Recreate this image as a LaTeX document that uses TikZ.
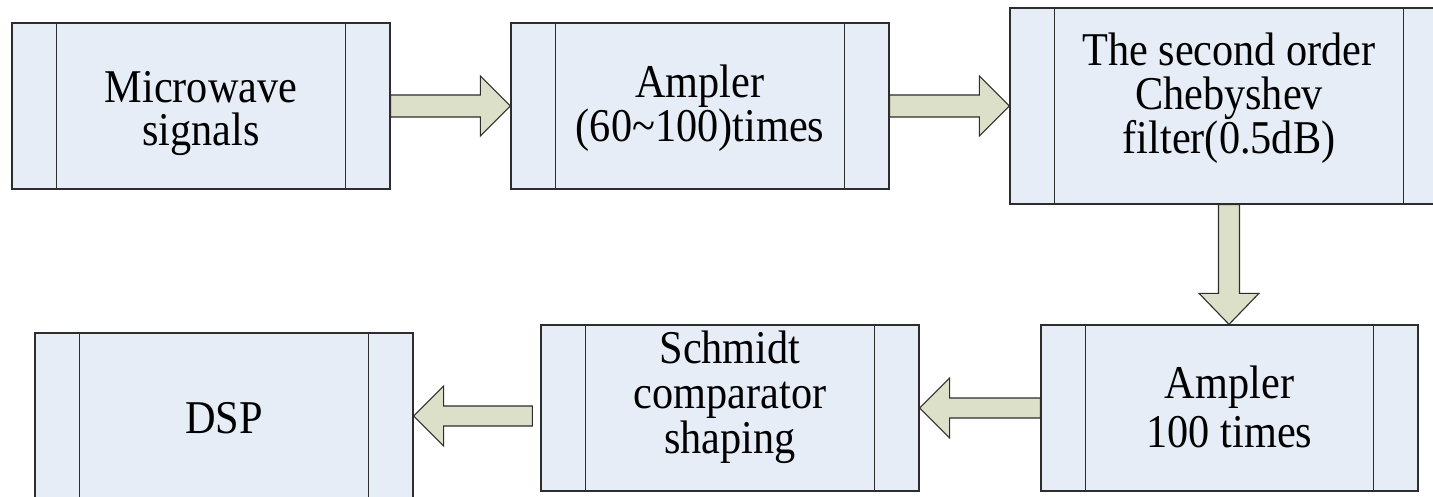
\documentclass[tikz,border=0pt]{standalone}
\usepackage{fontspec}
\setmainfont{Liberation Serif}[FakeStretch=0.9]
\usetikzlibrary{calc}
\definecolor{boxfill}{RGB}{230,237,247}
\definecolor{arrowfill}{RGB}{220,224,200}
\definecolor{edge}{RGB}{45,45,45}
\begin{document}
\begin{tikzpicture}[x=1pt,y=-1pt,
  block/.style={draw=edge, fill=boxfill, line width=1.3pt, inner sep=0pt,
    minimum width=378pt, minimum height=166pt},
  txt/.style={anchor=base, inner sep=0pt, font=\fontsize{47}{47}\selectfont},
  bar/.style={draw=edge, line width=1.3pt},
  fatarrow/.style={draw=edge, fill=arrowfill, line width=1.1pt, line join=miter}]
\useasboundingbox (0,0) rectangle (1433,497);
\clip (0,0) rectangle (1433,497);

% processing blocks
\node[block] (mw)   at (201,106)  {};
\node[block] (amp1) at (700,106)  {};
\node[block, minimum width=438pt, minimum height=196pt] (cheb) at (1229,106) {};
\node[block, minimum width=377pt] (amp2) at (1229.5,408) {};
\node[block] (schm) at (730,408)  {};
\node[block] (dsp)  at (224,416)  {};

% side bars of each block
\foreach \b in {mw,amp1,cheb,amp2,schm,dsp}{
  \draw[bar] ([xshift=45pt]\b.north west) -- ([xshift=45pt]\b.south west);
  \draw[bar] ([xshift=-45pt]\b.north east) -- ([xshift=-45pt]\b.south east);
}

% block labels, one node per line, placed on their baselines
\node[txt] (mw-a)   at ($(mw.center)+(0,-3)$)    {Microwave};
\node[txt] (mw-b)   at ($(mw.center)+(0,40)$)    {signals};
\node[txt] (amp1-a) at ($(amp1.center)+(0,-8)$)  {Ampler};
\node[txt] (amp1-b) at ($(amp1.center)+(0,36)$)  {(60\textasciitilde100)times};
\node[txt] (cheb-a) at ($(cheb.center)+(0,-40)$) {The second order};
\node[txt] (cheb-b) at ($(cheb.center)+(0,4)$)   {Chebyshev};
\node[txt] (cheb-c) at ($(cheb.center)+(0,48)$)  {filter(0.5dB)};
\node[txt] (amp2-a) at ($(amp2.center)+(0,-10)$) {Ampler};
\node[txt] (amp2-b) at ($(amp2.center)+(0,39)$)  {100 times};
\node[txt] (schm-a) at ($(schm.center)+(0,-45)$) {Schmidt};
\node[txt] (schm-b) at ($(schm.center)+(0,0)$)   {comparator};
\node[txt] (schm-c) at ($(schm.center)+(0,45)$)  {shaping};
\node[txt] (dsp-a)  at ($(dsp.center)+(0,17)$)   {DSP};

% block arrows, pointing right
\foreach \a/\b in {mw/amp1, amp1/cheb}{
  \draw[fatarrow] let \p1=(\a.east), \p2=(\b.west) in
    (\x1,\y1+11pt) -- (\x2-30pt,\y1+11pt) -- (\x2-30pt,\y1+30pt) -- (\x2,\y1)
    -- (\x2-30pt,\y1-30pt) -- (\x2-30pt,\y1-11pt) -- (\x1,\y1-11pt) -- cycle;
}

% block arrow, pointing down
\draw[fatarrow] let \p1=(cheb.south), \p2=(amp2.north) in
  (\x1-10.5pt,\y1) -- (\x1-10.5pt,\y2+31pt) -- (\x1-30pt,\y2+31pt) -- (\x1,\y2)
  -- (\x1+30pt,\y2+31pt) -- (\x1+10.5pt,\y2+31pt) -- (\x1+10.5pt,\y1) -- cycle;

% block arrow, pointing left
\draw[fatarrow] let \p1=(amp2.west), \p2=(schm.east) in
  (\x1,\y1+10pt) -- (\x2+30pt,\y1+10pt) -- (\x2+30pt,\y1+30pt) -- (\x2,\y1)
  -- (\x2+30pt,\y1-30pt) -- (\x2+30pt,\y1-10pt) -- (\x1,\y1-10pt) -- cycle;

% block arrow, pointing left, ending short of its source
\coordinate (schmtail) at ([xshift=-8pt]schm.west);
\draw[fatarrow] let \p1=(schmtail), \p2=(dsp.east) in
  (\x1,\y2+10pt) -- (\x2+30pt,\y2+10pt) -- (\x2+30pt,\y2+30pt) -- (\x2,\y2)
  -- (\x2+30pt,\y2-30pt) -- (\x2+30pt,\y2-10pt) -- (\x1,\y2-10pt) -- cycle;
\end{tikzpicture}
\end{document}
